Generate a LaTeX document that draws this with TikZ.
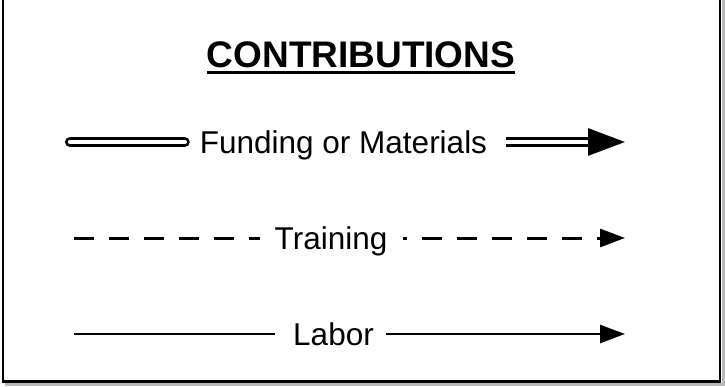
\documentclass[tikz,border=0pt]{standalone}
\usepackage{fontspec}
\setmainfont{Liberation Sans}
\usetikzlibrary{arrows.meta}
\begin{document}
\begin{tikzpicture}[x=1pt,y=-1pt,
  lbl/.style={font=\fontsize{31.5}{38}\selectfont, inner sep=0pt, text height=22.5pt, text depth=0pt},
  fundline/.style={double, double distance=4.5pt, line width=2.8pt},
  trainline/.style={line width=3pt, dash pattern=on 20pt off 15pt},
  laborline/.style={line width=2.6pt},
  bigtip/.style={-{Triangle[length=37pt,width=27pt]}},
  smalltip/.style={-{Triangle[length=25pt,width=18pt]}},
]
\useasboundingbox (0,0) rectangle (725,386);
% box with shadow
\draw[gray!55, line width=3pt] (6,-10) rectangle (723.3,384.3);
\draw[line width=2.5pt, fill=white] (2.75,-10) rectangle (720,381.5);
% title
\node[font=\fontsize{37}{44}\selectfont\bfseries, inner sep=0pt, anchor=base] (title) at (361,67) {CONTRIBUTIONS};
\draw[line width=2.5pt] ([yshift=-5.5pt]title.base west) -- ([yshift=-5.5pt]title.base east);
% funding
\coordinate (fs) at (70,142);
\coordinate (fe) at (625,142);
\node[lbl] (fund) at (343.5,142) {Funding or Materials};
\draw[fundline, line cap=round] (fs) -- ([xshift=-15pt]fund.west);
\draw[fundline, bigtip] ([xshift=19pt]fund.east) -- (fe);
% training
\coordinate (ts) at (74,238);
\coordinate (te) at (625,238);
\node[lbl] (train) at (331,238) {Training};
\draw[trainline] (ts) -- ([xshift=-14pt]train.west);
\draw[trainline, dash phase=16pt, smalltip] ([xshift=15pt]train.east) -- (te);
% labor
\coordinate (ls) at (74,334);
\coordinate (le) at (625,334);
\node[lbl] (labor) at (333.5,334) {Labor};
\draw[laborline] (ls) -- ([xshift=-18pt]labor.west);
\draw[laborline, smalltip] ([xshift=12pt]labor.east) -- (le);
\end{tikzpicture}
\end{document}
